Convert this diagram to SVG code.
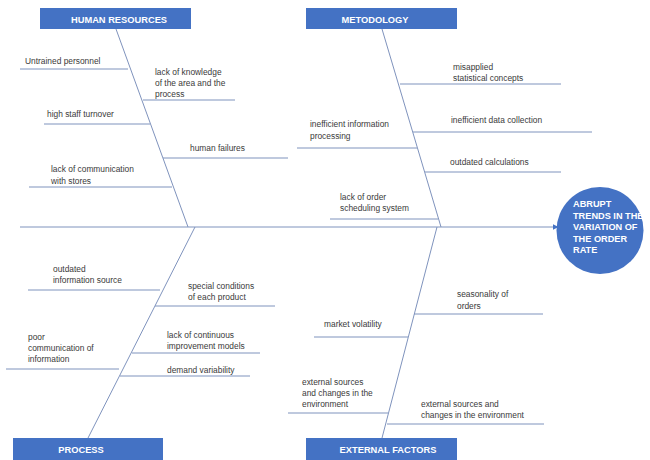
<svg xmlns="http://www.w3.org/2000/svg" width="650" height="460" viewBox="0 0 650 460">
<style>
.box{fill:#4472C4;}
.cat{font-family:"Liberation Sans",Arial,sans-serif;font-size:9.3px;font-weight:bold;fill:#ffffff;text-anchor:middle;}
.lbl{font-family:"Liberation Sans",Arial,sans-serif;font-size:8.4px;fill:#3a3a3a;}
.head{font-family:"Liberation Sans",Arial,sans-serif;font-size:9.2px;font-weight:bold;fill:#ffffff;}
.ln{stroke:#7f93bd;stroke-width:1;fill:none;}
</style>
<defs>
<marker id="arr" viewBox="0 0 10 10" refX="9" refY="5" markerWidth="6" markerHeight="6" orient="auto" markerUnits="userSpaceOnUse">
<path d="M0,0 L10,5 L0,10 z" fill="#4472C4"/>
</marker>
</defs>
<rect width="650" height="460" fill="#ffffff"/>
<g id="connectors">
<path class="ln" d="M20 227 H558" marker-end="url(#arr)"/>
<path class="ln" d="M116 29 L188 227"/>
<path class="ln" d="M382 29 L441 227"/>
<path class="ln" d="M195 227 L88 438"/>
<path class="ln" d="M437 227 L382 438"/>
<path class="ln" d="M20 69 H128 M143 100 H235 M44 124 H150 M163 158 H288 M29 187 H172"/>
<path class="ln" d="M400 84 H561 M413 132 H592 M297 148 H417 M425 172 H561 M330 219 H438"/>
<path class="ln" d="M28 290 H160 M155 306 H275 M6 369 H119 M132 353 H260 M120 376 H250"/>
<path class="ln" d="M414 314 H543 M314 337 H408 M288 413 H388 M387 424 H544"/>
</g>
<g id="human-resources">
<rect class="box" x="40" y="8" width="151" height="21"/>
<text class="cat" x="119" y="22.5">HUMAN RESOURCES</text>
</g>
<g id="metodology">
<rect class="box" x="306" y="8" width="151" height="21"/>
<text class="cat" x="375" y="22.5">METODOLOGY</text>
</g>
<g id="process">
<rect class="box" x="13" y="438" width="150" height="22"/>
<text class="cat" x="81" y="453">PROCESS</text>
</g>
<g id="external-factors">
<rect class="box" x="306" y="438" width="151" height="22"/>
<text class="cat" x="388" y="453">EXTERNAL FACTORS</text>
</g>
<g id="effect">
<circle cx="600" cy="230.5" r="43.5" fill="#4472C4"/>
<text class="head" x="573" y="207">ABRUPT</text>
<text class="head" x="573" y="218.5">TRENDS IN THE</text>
<text class="head" x="573" y="230">VARIATION OF</text>
<text class="head" x="573" y="241.5">THE ORDER</text>
<text class="head" x="573" y="253">RATE</text>
</g>
<g id="hr-causes">
<text class="lbl" x="25" y="64">Untrained personnel</text>
<text class="lbl" x="155" y="75">lack of knowledge</text>
<text class="lbl" x="155" y="86">of the area and the</text>
<text class="lbl" x="155" y="97">process</text>
<text class="lbl" x="47" y="117">high staff turnover</text>
<text class="lbl" x="190" y="151">human failures</text>
<text class="lbl" x="51" y="172">lack of communication</text>
<text class="lbl" x="51" y="184">with stores</text>
</g>
<g id="metodology-causes">
<text class="lbl" x="453" y="70">misapplied</text>
<text class="lbl" x="453" y="81">statistical concepts</text>
<text class="lbl" x="451" y="123">inefficient data collection</text>
<text class="lbl" x="310" y="127">inefficient information</text>
<text class="lbl" x="310" y="139">processing</text>
<text class="lbl" x="450" y="165">outdated calculations</text>
<text class="lbl" x="340" y="200">lack of order</text>
<text class="lbl" x="340" y="211">scheduling system</text>
</g>
<g id="process-causes">
<text class="lbl" x="53" y="272">outdated</text>
<text class="lbl" x="53" y="283">information source</text>
<text class="lbl" x="188" y="289">special conditions</text>
<text class="lbl" x="188" y="300">of each product</text>
<text class="lbl" x="28" y="340">poor</text>
<text class="lbl" x="28" y="351">communication of</text>
<text class="lbl" x="28" y="362">information</text>
<text class="lbl" x="167" y="338">lack of continuous</text>
<text class="lbl" x="167" y="349">improvement models</text>
<text class="lbl" x="167" y="373">demand variability</text>
</g>
<g id="external-causes">
<text class="lbl" x="457" y="297">seasonality of</text>
<text class="lbl" x="457" y="309">orders</text>
<text class="lbl" x="324" y="327">market volatility</text>
<text class="lbl" x="302" y="385">external sources</text>
<text class="lbl" x="302" y="396">and changes in the</text>
<text class="lbl" x="302" y="407">environment</text>
<text class="lbl" x="421" y="407">external sources and</text>
<text class="lbl" x="421" y="418">changes in the environment</text>
</g>
</svg>
